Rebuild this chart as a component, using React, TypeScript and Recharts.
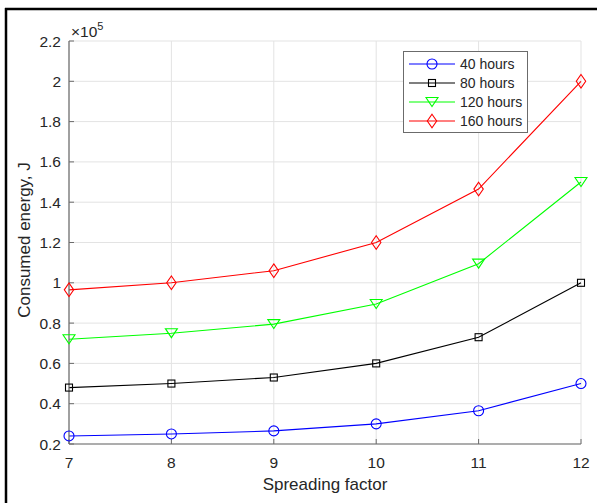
import React from 'react';
import { LineChart, Line, XAxis, YAxis, CartesianGrid } from 'recharts';

const spreadingFactors = [7, 8, 9, 10, 11, 12];
const hours40 = [0.24, 0.25, 0.265, 0.3, 0.365, 0.5];
const hours80 = [0.48, 0.5, 0.53, 0.6, 0.73, 1.0];
const hours120 = [0.72, 0.75, 0.795, 0.895, 1.095, 1.5];
const hours160 = [0.965, 1.0, 1.06, 1.2, 1.465, 2.0];
const yTicks = [0.2, 0.4, 0.6, 0.8, 1.0, 1.2, 1.4, 1.6, 1.8, 2.0, 2.2];
const xTicks = [7, 8, 9, 10, 11, 12];

type Shape = 'circle' | 'square' | 'triangle' | 'diamond';

const seriesList: { key: string; name: string; color: string; shape: Shape; values: number[] }[] = [
  { key: 'h40', name: '40 hours', color: '#0000ff', shape: 'circle', values: hours40 },
  { key: 'h80', name: '80 hours', color: '#000000', shape: 'square', values: hours80 },
  { key: 'h120', name: '120 hours', color: '#00ff00', shape: 'triangle', values: hours120 },
  { key: 'h160', name: '160 hours', color: '#ff0000', shape: 'diamond', values: hours160 },
];

const data = spreadingFactors.map((sf, i) => {
  const row: Record<string, number> = { sf };
  seriesList.forEach((s) => {
    row[s.key] = s.values[i];
  });
  return row;
});

const Marker = ({ cx, cy, color, shape }: { cx: number; cy: number; color: string; shape: Shape }) => {
  if (cx == null || cy == null) return null;
  const common = { fill: 'none', stroke: color, strokeWidth: 1.1 };
  if (shape === 'circle') return <circle cx={cx} cy={cy} r={5} {...common} />;
  if (shape === 'square') return <rect x={cx - 3.5} y={cy - 3.5} width={7} height={7} {...common} />;
  if (shape === 'triangle')
    return <polygon points={`${cx - 6},${cy - 4.5} ${cx + 6},${cy - 4.5} ${cx},${cy + 4.5}`} {...common} />;
  return <polygon points={`${cx},${cy - 6.8} ${cx + 4.7},${cy} ${cx},${cy + 6.8} ${cx - 4.7},${cy}`} {...common} />;
};

const fmt = (v: number) => String(Number(v.toFixed(1)));

const AXIS = '#6b6b6b';
const TEXT = '#262626';
const FONT = 'Arial, "Liberation Sans", Helvetica, sans-serif';

const LegendBox = () => (
  <svg width={125} height={82} style={{ display: 'block' }}>
    <rect x={0.5} y={0.5} width={124} height={81} fill="#ffffff" stroke="#6b6b6b" strokeWidth={1} />
    {seriesList.map((s, i) => {
      const y = 13 + i * 19;
      return (
        <g key={s.key}>
          <line x1={6} x2={52} y1={y} y2={y} stroke={s.color} strokeWidth={1.1} />
          <Marker cx={29} cy={y} color={s.color} shape={s.shape} />
          <text x={57} y={y + 5} fontSize={14} fill={TEXT} fontFamily={FONT}>
            {s.name}
          </text>
        </g>
      );
    })}
  </svg>
);

export default function App() {
  return (
    <div style={{ position: 'absolute', left: 0, top: 0, width: 597, height: 503, background: '#fff' }}>
      <LineChart
        width={597}
        height={503}
        data={data}
        margin={{ top: 41, right: 16, bottom: 0, left: 0 }}
        style={{ fontFamily: FONT }}
      >
        <CartesianGrid stroke="#e3e3e3" strokeWidth={1} />
        <XAxis
          dataKey="sf"
          type="number"
          domain={[7, 12]}
          ticks={xTicks}
          height={59}
          tickSize={-5}
          tickMargin={18}
          axisLine={{ stroke: AXIS, strokeWidth: 1.2 }}
          tickLine={{ stroke: AXIS }}
          tick={{ fill: TEXT, fontSize: 15.5 }}
          interval={0}
        />
        <XAxis
          xAxisId="top"
          orientation="top"
          dataKey="sf"
          type="number"
          domain={[7, 12]}
          ticks={xTicks}
          height={0}
          tickSize={-5}
          tick={false}
          axisLine={{ stroke: AXIS, strokeWidth: 1.2 }}
          tickLine={{ stroke: AXIS }}
        />
        <YAxis
          type="number"
          domain={[0.2, 2.2]}
          ticks={yTicks}
          width={69}
          tickSize={-5}
          tickMargin={13}
          tickFormatter={fmt}
          axisLine={{ stroke: AXIS, strokeWidth: 1.2 }}
          tickLine={{ stroke: AXIS }}
          tick={{ fill: TEXT, fontSize: 15.5 }}
          interval={0}
          allowDataOverflow
        />
        <YAxis
          yAxisId="right"
          orientation="right"
          type="number"
          domain={[0.2, 2.2]}
          ticks={yTicks}
          width={0}
          tickSize={-5}
          tick={false}
          axisLine={{ stroke: AXIS, strokeWidth: 1.2 }}
          tickLine={{ stroke: AXIS }}
        />
        {seriesList.map((s) => (
          <Line
            key={s.key}
            dataKey={s.key}
            name={s.name}
            stroke={s.color}
            strokeWidth={1.1}
            type="linear"
            isAnimationActive={false}
            dot={(p: any) => <Marker key={`${s.key}-${p.index}`} cx={p.cx} cy={p.cy} color={s.color} shape={s.shape} />}
            activeDot={false}
          />
        ))}
      </LineChart>
      <div style={{ position: 'absolute', left: 403, top: 51 }}>
        <LegendBox />
      </div>
      <svg
        width={597}
        height={503}
        style={{ position: 'absolute', left: 0, top: 0, pointerEvents: 'none' }}
      >
        <line x1={5} x2={597} y1={9} y2={9} stroke="#000" strokeWidth={2.5} />
        <line x1={6} x2={6} y1={8} y2={503} stroke="#000" strokeWidth={2.5} />
        <text x={71} y={37} fontSize={15.5} fill={TEXT} fontFamily={FONT}>
          ×10
          <tspan fontSize={11} dy={-7}>5</tspan>
        </text>
        <text x={325} y={490} fontSize={17} fill={TEXT} fontFamily={FONT} textAnchor="middle">
          Spreading factor
        </text>
        <text
          x={30}
          y={240}
          fontSize={17}
          fill={TEXT}
          fontFamily={FONT}
          textAnchor="middle"
          transform="rotate(-90 30 240)"
        >
          Consumed energy, J
        </text>
      </svg>
    </div>
  );
}
